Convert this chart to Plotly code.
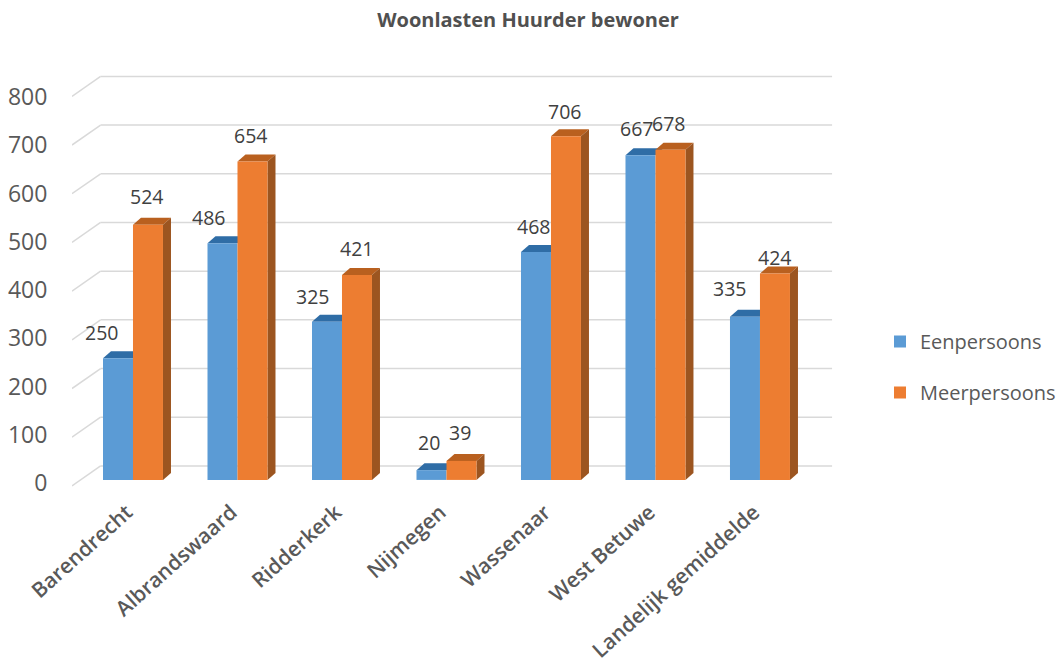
import plotly.graph_objects as go

categories = ["Barendrecht", "Albrandswaard", "Ridderkerk", "Nijmegen", "Wassenaar", "West Betuwe", "Landelijk gemiddelde"]
eenpersoons = [250, 486, 325, 20, 468, 667, 335]
meerpersoons = [524, 654, 421, 39, 706, 678, 424]
y_ticks = [0, 100, 200, 300, 400, 500, 600, 700, 800]

BLUE, BLUE_TOP = "#5b9bd5", "#2f6da6"
ORANGE, ORANGE_TOP, ORANGE_SIDE = "#ed7d31", "#b9601f", "#9c5520"
GRID = "#d9d9d9"
FONT = "Open Sans"
BAR_W = 0.287
DX, DY = 0.0766, 14.4      # bar depth in axis units
x_idx = list(range(len(categories)))

shapes = []
# back wall gridlines and the receding left edge
for t in y_ticks:
    shapes.append(dict(type="line", xref="x", yref="y", layer="below", x0=-0.31, x1=6.69,
                       y0=t + 28.7, y1=t + 28.7, line=dict(color=GRID, width=1.5)))
    shapes.append(dict(type="line", xref="x", yref="y", layer="below", x0=-0.584, x1=-0.31,
                       y0=t - 12.3, y1=t + 28.7, line=dict(color=GRID, width=1.5)))

def poly(pts, color):
    d = "M" + " L".join(f"{a},{b}" for a, b in pts) + " Z"
    return dict(type="path", xref="x", yref="y", layer="below", path=d,
                fillcolor=color, line=dict(width=0))

for i in x_idx:
    a, b = eenpersoons[i], meerpersoons[i]
    l, m, r = i - BAR_W, i, i + BAR_W
    shapes.append(poly([(l, a), (m, a), (m + DX, a + DY), (l + DX, a + DY)], BLUE_TOP))
    shapes.append(poly([(m, b), (r, b), (r + DX, b + DY), (m + DX, b + DY)], ORANGE_TOP))
    shapes.append(poly([(r, 0), (r + DX, DY), (r + DX, b + DY), (r, b)], ORANGE_SIDE))

fig = go.Figure()
fig.add_bar(x=x_idx, y=eenpersoons, name="Eenpersoons", legendgroup="a",
            marker=dict(color=BLUE, line=dict(width=0)))
fig.add_bar(x=x_idx, y=meerpersoons, name="Meerpersoons", legendgroup="b",
            marker=dict(color=ORANGE, line=dict(width=0)))
# carries the value axis labels
fig.add_scatter(x=[0] * len(y_ticks), y=y_ticks, yaxis="y2", mode="markers",
                marker=dict(opacity=0), showlegend=False, hoverinfo="skip")

blue_shift = [(-17, 26), (-14, 26), (-14, 25), (-2, 28), (-2, 26), (-4, 27), (-15, 28)]
orange_shift = [(-1, 28), (-2, 26), (0, 26), (-1, 28), (-1, 25), (-2, 26), (0, 16)]
ann = []
for vals, shifts, off in ((eenpersoons, blue_shift, -BAR_W / 2), (meerpersoons, orange_shift, BAR_W / 2)):
    for i, (v, s) in enumerate(zip(vals, shifts)):
        ann.append(dict(x=i + off, y=v, xref="x", yref="y", text=str(v), showarrow=False,
                        xanchor="center", yanchor="middle", xshift=s[0], yshift=s[1],
                        font=dict(family=FONT, size=19.5, color="#404040")))

fig.update_layout(
    width=1058, height=666, autosize=False,
    margin=dict(l=72, r=223, t=60, b=171, pad=0, autoexpand=False),
    paper_bgcolor="white", plot_bgcolor="white",
    title=dict(text="<b>Woonlasten Huurder bewoner</b>", x=528 / 1058, xanchor="center",
               y=1 - 20 / 666, yanchor="middle", font=dict(family=FONT, size=20, color="#505050")),
    barmode="group", bargap=0.426, bargroupgap=0,
    xaxis=dict(range=[-0.5837, 6.718], tickmode="array", tickvals=x_idx, ticktext=categories,
               tickangle=-42, showgrid=False, zeroline=False, showline=False, ticks="", automargin=False,
               ticklabelshift=-6,
               tickfont=dict(family=FONT, size=21, weight=600, color="#595959")),
    yaxis=dict(range=[-31, 862.4], showgrid=False, zeroline=False, showline=False,
               showticklabels=False, ticks="", automargin=False),
    yaxis2=dict(overlaying="y", side="left", range=[-24.9, 876.6], tickmode="array",
                tickvals=y_ticks, showgrid=False, zeroline=False, showline=False, automargin=False,
                ticks="outside", ticklen=19, tickcolor="rgba(0,0,0,0)",
                tickfont=dict(family=FONT, size=23, color="#595959")),
    legend=dict(x=880 / 1058, y=1 - 322 / 666, xref="container", yref="container", xanchor="left", yanchor="top",
                traceorder="grouped", tracegroupgap=22,
                font=dict(family=FONT, size=20, color="#595959")),
    shapes=shapes, annotations=ann, showlegend=True,
)
fig.write_html("out.html", post_script="document.body.style.margin='0';",
               config={"displayModeBar": False})
